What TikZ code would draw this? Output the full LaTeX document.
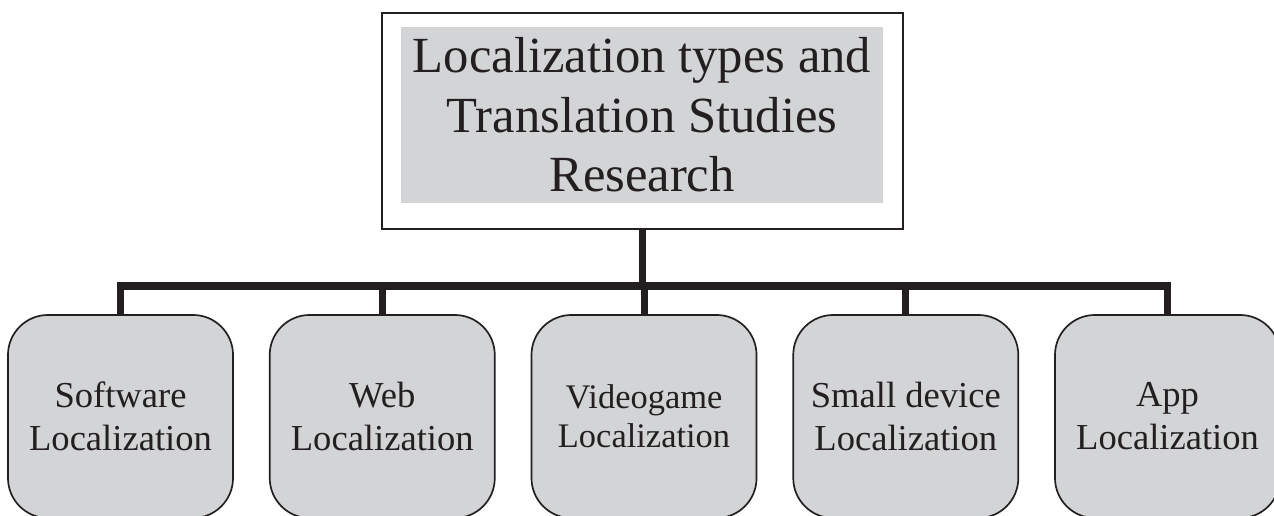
\documentclass[tikz,border=0pt]{standalone}
\usepackage{fontspec}
\setmainfont{Liberation Serif}
\usetikzlibrary{positioning}

\definecolor{boxgray}{RGB}{211,212,214}
\definecolor{inkdark}{RGB}{35,31,32}

\begin{document}
\begin{tikzpicture}[x=0.025cm,y=-0.025cm,
    frame/.style={draw=inkdark, line width=1.2pt, fill=white, minimum width=13.025cm, minimum height=5.4cm},
    title/.style={fill=boxgray, minimum width=12.05cm, minimum height=4.4cm, align=center,
      font=\fontsize{36}{42.3}\selectfont, text=inkdark},
    loc/.style={draw=inkdark, line width=1.2pt, fill=boxgray, rounded corners=1cm,
      minimum width=5.625cm, minimum height=5.075cm, align=center,
      font=\fontsize{26}{30.6}\selectfont, text=inkdark},
    conn/.style={draw=inkdark, line width=5pt}]
  \useasboundingbox (0,0) rectangle (1274,515);
  \clip (0,0) rectangle (1274,515);

  % top of the tree
  \node[frame] (frame) at (642.5,121) {};
  \node[title] (title) at (642,115) {Localization types and\\Translation Studies\\Research};

  % the five kinds
  \node[loc] (soft) at (120.5,416.5) {Software\\Localization};
  \node[loc, right=0.875cm of soft] (web) {Web\\Localization};
  \node[loc, right=0.875cm of web, font=\fontsize{24.5}{28}\selectfont] (game) {Videogame\\Localization};
  \node[loc, right=0.875cm of game] (small) {Small device\\Localization};
  \node[loc, right=0.875cm of small] (app) {App\\Localization};

  \coordinate (hub) at (frame.south |- 0,286);
  \draw[conn] (frame.south) -- (hub);
  \foreach \k in {soft,web,game,small,app}
    \draw[conn] (\k.north) |- (hub);
\end{tikzpicture}
\end{document}
